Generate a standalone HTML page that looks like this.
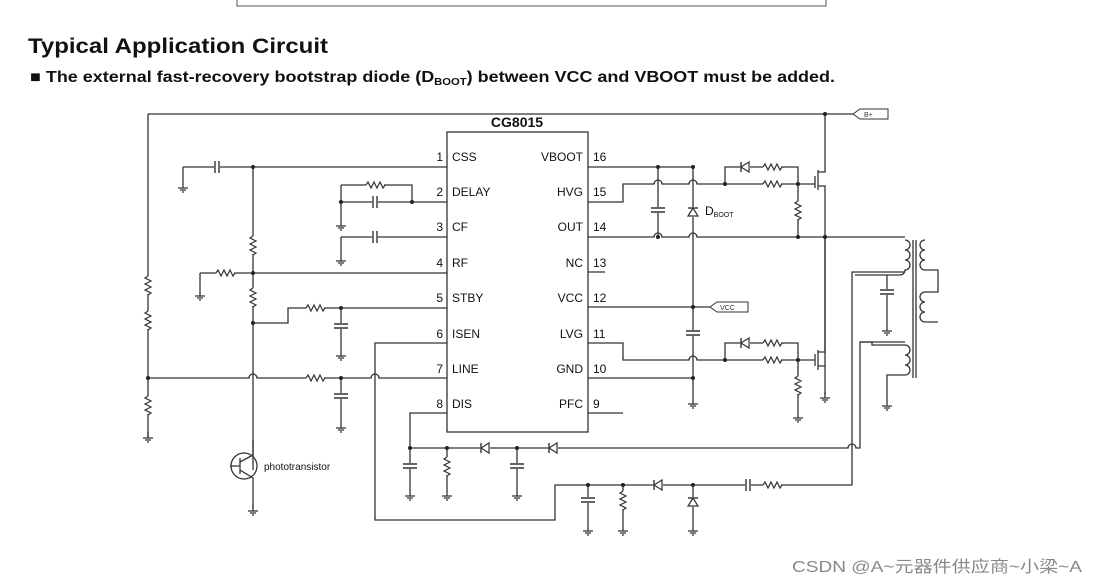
<!DOCTYPE html>
<html><head><meta charset="utf-8"><style>
body{margin:0;background:#fff;width:1097px;height:584px;overflow:hidden;font-family:"Liberation Sans",Arial,sans-serif}
svg{position:absolute;left:0;top:0}
</style></head><body>
<svg width="1097" height="584" viewBox="0 0 1097 584" xmlns="http://www.w3.org/2000/svg">
<defs>
<g id="rh"><rect x="-9" y="-4" width="18" height="8" fill="#fff"/><path d="M-9,0 l2,-3 l3,6 l3,-6 l3,6 l3,-6 l3,6 l2,-3" fill="none" stroke="#333" stroke-width="1.2"/></g>
<g id="rv"><rect x="-4" y="-9" width="8" height="18" fill="#fff"/><path d="M0,-9 l-3,2 l6,3 l-6,3 l6,3 l-6,3 l6,3 l-3,2" fill="none" stroke="#333" stroke-width="1.2"/></g>
<g id="ch"><rect x="-3" y="-6" width="6" height="12" fill="#fff"/><path d="M-2,-6 v12 M2,-6 v12" stroke="#333" stroke-width="1.4"/></g>
<g id="cv"><rect x="-6" y="-3" width="12" height="6" fill="#fff"/><path d="M-7,-2 h14 M-7,2 h14" stroke="#333" stroke-width="1.4"/></g>
<g id="gnd"><path d="M0,0 v6 M-5,6 h10 M-3,8 h6 M-1,10 h2" stroke="#333" stroke-width="1.3"/></g>
<g id="dl"><rect x="-5" y="-5" width="10" height="10" fill="#fff"/><path d="M-4,-5 v10" stroke="#333" stroke-width="1.4"/><path d="M-4,0 L4,-5 L4,5 Z" fill="none" stroke="#333" stroke-width="1.2"/></g>
<g id="du"><rect x="-5" y="-5" width="10" height="10" fill="#fff"/><path d="M-5,-4 h10" stroke="#333" stroke-width="1.4"/><path d="M0,-4 L-5,4 L5,4 Z" fill="none" stroke="#333" stroke-width="1.2"/></g>
<g id="dot"><circle r="2" fill="#222"/></g>
</defs>

<path d="M237,0 V6 H826 V0" fill="none" stroke="#555" stroke-width="1"/>

<text x="28" y="53" font-size="21" font-weight="bold" fill="#111" textLength="300" lengthAdjust="spacingAndGlyphs">Typical Application Circuit</text>
<text x="30" y="82" font-size="16" font-weight="bold" fill="#111" textLength="805" lengthAdjust="spacingAndGlyphs">■ The external fast-recovery bootstrap diode (D<tspan font-size="10" dy="3">BOOT</tspan><tspan dy="-3">) between VCC and VBOOT must be added.</tspan></text>

<g stroke="#333" stroke-width="1.3" fill="none">
<rect x="447" y="132" width="141" height="300"/>
<path d="M148,114 H853"/>
<path d="M148,114 V438"/>
<path d="M183,167 H447 M183,167 V182"/>
<path d="M253,167 V470"/>
<path d="M341,185 H412 V202 M341,185 V220 M341,202 H447"/>
<path d="M341,237 H447 M341,237 V255"/>
<path d="M200,273 H447 M200,273 V290"/>
<path d="M253,323 H288 V308 H447 M341,308 V350"/>
<path d="M148,378 H249 a4,4 0 0 1 8,0 H371 a4,4 0 0 1 8,0 H447 M341,378 V422"/>
<path d="M447,343 H375 V520 H555 V485 H852 V450"/>
<path d="M447,413 H410 V448 H848 a4,4 0 0 1 8,0 H860 V342 H905"/>
<path d="M410,448 V490 M447,448 V490 M517,448 V490"/>
<path d="M588,485 V525 M623,485 V525 M693,485 V525"/>
<path d="M852,450 V272 H905"/>
<path d="M588,167 H692 M658,167 V237"/>
<path d="M693,167 V378"/>
<path d="M588,202 H623 V184 H654 a4,4 0 0 1 8,0 H689 a4,4 0 0 1 8,0 H815"/>
<path d="M725,184 V167 H798 V237 M798,184 V200"/>
<path d="M588,237 H654 a4,4 0 0 1 8,0 H689 a4,4 0 0 1 8,0 H905"/>
<path d="M588,272 H605"/>
<path d="M588,307 H710"/>
<path d="M588,343 H623 V360 H689 a4,4 0 0 1 8,0 H815"/>
<path d="M725,360 V343 H798 V378 M798,360 V412"/>
<path d="M588,378 H693 V398"/>
<path d="M588,413 H623"/>
<path d="M825,114 V172 H818 M818,170 V190 M815,176 V188 M818,186 H825 V395"/>
<path d="M818,350 V370 M815,354 V366 M825,340 V352 H818 M818,366 H825"/>
<path d="M825,340 V237"/>
<path d="M905,240 a5,5 0 0 1 0,10 a5,5 0 0 1 0,10 a5,5 0 0 1 0,10 a5,5 0 0 1 -5,5 M900,275 H855"/>
<path d="M887,275 V325"/>
<path d="M913,240 V378 M916,240 V378"/>
<path d="M925,240 a5,5 0 0 0 0,10 a5,5 0 0 0 0,10 a5,5 0 0 0 0,10 H938 V292 H925 a5,5 0 0 0 0,10 a5,5 0 0 0 0,10 a5,5 0 0 0 0,10 H938"/>
<path d="M905,345 a5,5 0 0 1 0,10 a5,5 0 0 1 0,10 a5,5 0 0 1 0,10 H887 V400"/>
<path d="M860,342 H872 V345 H905"/>
<circle cx="244" cy="466" r="13"/>
<path d="M230,466 H240 M240,458 V474 M240,462 L253,455 M240,470 L253,478 V508"/>
<path d="M253,455 V440"/>
</g>

<path d="M853,114 l7,-5 h28 v10 h-28 z" fill="#fff" stroke="#333"/>
<text x="864" y="117" font-size="7" fill="#333">B+</text>
<path d="M710,307 l7,-5 h31 v10 h-31 z" fill="#fff" stroke="#333"/>
<text x="720" y="310" font-size="7" fill="#333">VCC</text>

<use href="#ch" x="217" y="167"/><use href="#gnd" x="183" y="182"/>
<use href="#rh" x="375" y="185"/><use href="#ch" x="375" y="202"/><use href="#gnd" x="341" y="220"/>
<use href="#ch" x="375" y="237"/><use href="#gnd" x="341" y="255"/>
<use href="#rv" x="253" y="245"/><use href="#rv" x="253" y="297"/>
<use href="#rh" x="225" y="273"/><use href="#gnd" x="200" y="290"/>
<use href="#rh" x="315" y="308"/><use href="#cv" x="341" y="326"/><use href="#gnd" x="341" y="350"/>
<use href="#rh" x="315" y="378"/><use href="#cv" x="341" y="396"/><use href="#gnd" x="341" y="422"/>
<use href="#rv" x="148" y="285"/><use href="#rv" x="148" y="320"/><use href="#rv" x="148" y="405"/><use href="#gnd" x="148" y="432"/>
<use href="#gnd" x="253" y="505"/>
<use href="#cv" x="410" y="466"/><use href="#gnd" x="410" y="490"/>
<use href="#rv" x="447" y="466"/><use href="#gnd" x="447" y="490"/>
<use href="#dl" x="485" y="448"/>
<use href="#cv" x="517" y="466"/><use href="#gnd" x="517" y="490"/>
<use href="#dl" x="553" y="448"/>
<use href="#cv" x="588" y="500"/><use href="#gnd" x="588" y="525"/>
<use href="#rv" x="623" y="500"/><use href="#gnd" x="623" y="525"/>
<use href="#dl" x="658" y="485"/>
<use href="#du" x="693" y="502"/><use href="#gnd" x="693" y="525"/>
<use href="#ch" x="748" y="485"/><use href="#rh" x="772" y="485"/>
<use href="#cv" x="658" y="210"/>
<use href="#du" x="693" y="212"/>
<use href="#cv" x="693" y="333"/><use href="#gnd" x="693" y="398"/>
<use href="#dl" x="745" y="167"/><use href="#rh" x="772" y="167"/><use href="#rh" x="772" y="184"/>
<use href="#rv" x="798" y="210"/>
<use href="#dl" x="745" y="343"/><use href="#rh" x="772" y="343"/><use href="#rh" x="772" y="360"/>
<use href="#rv" x="798" y="385"/><use href="#gnd" x="798" y="412"/>
<use href="#gnd" x="825" y="392"/>
<use href="#cv" x="887" y="292"/><use href="#gnd" x="887" y="325"/><use href="#gnd" x="887" y="400"/>
<g fill="#222"><use href="#dot" x="253" y="167"/><use href="#dot" x="341" y="202"/><use href="#dot" x="412" y="202"/><use href="#dot" x="253" y="273"/><use href="#dot" x="253" y="323"/><use href="#dot" x="341" y="308"/><use href="#dot" x="148" y="378"/><use href="#dot" x="341" y="378"/><use href="#dot" x="658" y="167"/><use href="#dot" x="658" y="237"/><use href="#dot" x="693" y="307"/><use href="#dot" x="693" y="378"/><use href="#dot" x="825" y="114"/><use href="#dot" x="825" y="237"/><use href="#dot" x="798" y="184"/><use href="#dot" x="798" y="237"/><use href="#dot" x="725" y="184"/><use href="#dot" x="725" y="360"/><use href="#dot" x="798" y="360"/><use href="#dot" x="410" y="448"/><use href="#dot" x="447" y="448"/><use href="#dot" x="517" y="448"/><use href="#dot" x="588" y="485"/><use href="#dot" x="623" y="485"/><use href="#dot" x="693" y="485"/><use href="#dot" x="693" y="167"/></g>

<g font-size="12" fill="#111">
<text x="517" y="127" text-anchor="middle" font-size="14" font-weight="bold">CG8015</text>
<g text-anchor="end">
<text x="443" y="161">1</text><text x="443" y="196">2</text><text x="443" y="231">3</text><text x="443" y="267">4</text><text x="443" y="302">5</text><text x="443" y="338">6</text><text x="443" y="373">7</text><text x="443" y="408">8</text>
<text x="583" y="161">VBOOT</text><text x="583" y="196">HVG</text><text x="583" y="231">OUT</text><text x="583" y="267">NC</text><text x="583" y="302">VCC</text><text x="583" y="338">LVG</text><text x="583" y="373">GND</text><text x="583" y="408">PFC</text>
</g>
<text x="452" y="161">CSS</text><text x="452" y="196">DELAY</text><text x="452" y="231">CF</text><text x="452" y="267">RF</text><text x="452" y="302">STBY</text><text x="452" y="338">ISEN</text><text x="452" y="373">LINE</text><text x="452" y="408">DIS</text>
<text x="593" y="161">16</text><text x="593" y="196">15</text><text x="593" y="231">14</text><text x="593" y="267">13</text><text x="593" y="302">12</text><text x="593" y="338">11</text><text x="593" y="373">10</text><text x="593" y="408">9</text>
<text x="705" y="215">D<tspan font-size="7" dy="2">BOOT</tspan></text>
<text x="264" y="470" font-size="10">phototransistor</text>
</g>
<text x="792" y="572" font-size="16" fill="#888" textLength="290" lengthAdjust="spacingAndGlyphs" font-family="'Liberation Sans','Noto Sans CJK SC',sans-serif">CSDN @A~元器件供应商~小梁~A</text>
</svg>
</body></html>
